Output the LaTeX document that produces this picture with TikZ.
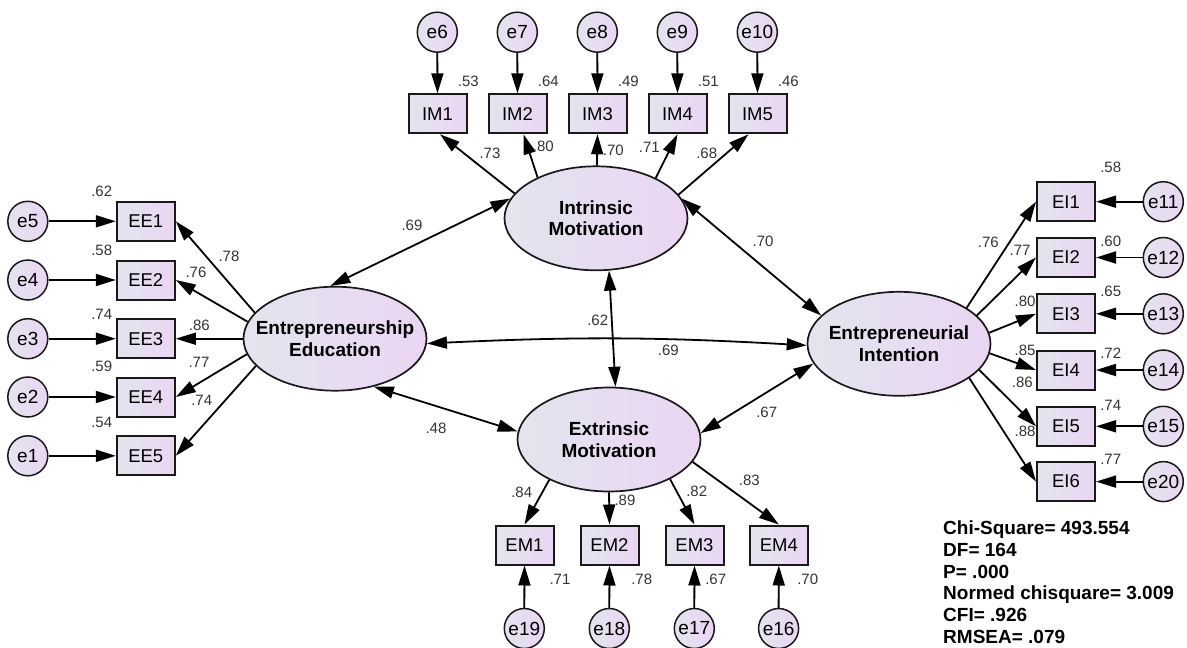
\documentclass[tikz,border=0pt]{standalone}
\usepackage{fontspec}
\setmainfont{Liberation Sans}
\usetikzlibrary{arrows.meta,shapes.geometric}
\definecolor{gA}{RGB}{226,229,238}
\definecolor{gB}{RGB}{235,213,243}
\begin{document}
\begin{tikzpicture}[x=1pt,y=-1pt,
  obs/.style={draw=black!90, line width=2pt, left color=gA, right color=gB, minimum width=58pt, minimum height=39pt, inner sep=0pt, font=\fontsize{18.5}{20}\selectfont},
  err/.style={circle, draw=black!90, line width=1.5pt, left color=gA, right color=gB, minimum size=40pt, inner sep=0pt, font=\fontsize{19}{20}\selectfont},
  lat/.style={ellipse, draw=black!90, line width=1.7pt, left color=gA, right color=gB, minimum width=183pt, minimum height=104pt, inner sep=0pt},
  lattext/.style={align=center, inner sep=0pt, font=\bfseries\fontsize{19}{21.5}\selectfont},
  lbl/.style={font=\fontsize{15}{16}\selectfont, text=black!80, inner sep=0pt},
  arr/.style={-{Triangle[length=20pt,width=12pt]}, line width=1.8pt},
  dbl/.style={{Triangle[length=20pt,width=12pt]}-{Triangle[length=20pt,width=12pt]}, line width=1.8pt}]
\useasboundingbox (0,0) rectangle (1187,648);

% latent variables
\node[lat] (EE) at (335,338.7) {};
\node[lattext] (EEt) at (EE) {Entrepreneurship\\Education};
\node[lat] (IM) at (596,218.3) {};
\node[lattext] (IMt) at (IM) {Intrinsic\\Motivation};
\node[lat] (EM) at (609,439.5) {};
\node[lattext] (EMt) at (EM) {Extrinsic\\Motivation};
\node[lat] (EI) at (899,343.8) {};
\node[lattext] (EIt) at (EI) {Entrepreneurial\\Intention};

% EE indicators
\node[obs] (EE1) at (145.8,221.3) {EE1};
\node[obs] (EE2) at (145.8,280) {EE2};
\node[obs] (EE3) at (145.8,338.7) {EE3};
\node[obs] (EE4) at (145.8,397) {EE4};
\node[obs] (EE5) at (145.8,455.8) {EE5};
\node[err] (e5) at (27.8,221.3) {e5};
\node[err] (e4) at (27.8,280) {e4};
\node[err] (e3) at (27.8,338.7) {e3};
\node[err] (e2) at (27.8,397) {e2};
\node[err] (e1) at (27.8,455.8) {e1};

% IM indicators
\node[obs] (IM1) at (437.5,113.8) {IM1};
\node[obs] (IM2) at (517.5,113.8) {IM2};
\node[obs] (IM3) at (597.5,113.8) {IM3};
\node[obs] (IM4) at (677.5,113.8) {IM4};
\node[obs] (IM5) at (757.5,113.8) {IM5};
\node[err] (e6) at (437.3,32.2) {e6};
\node[err] (e7) at (517.3,32.2) {e7};
\node[err] (e8) at (597.3,32.2) {e8};
\node[err] (e9) at (677.3,32.2) {e9};
\node[err] (e10) at (757.3,32.2) {e10};

% EM indicators
\node[obs] (EM1) at (524.5,545) {EM1};
\node[obs] (EM2) at (609.5,545) {EM2};
\node[obs] (EM3) at (694.5,545) {EM3};
\node[obs] (EM4) at (778.8,545) {EM4};
\node[err] (e19) at (524.3,628.5) {e19};
\node[err] (e18) at (609.3,628.5) {e18};
\node[err] (e17) at (694.3,628.5) {e17};
\node[err] (e16) at (778.6,628.5) {e16};

% EI indicators
\node[obs] (EI1) at (1066,201.7) {EI1};
\node[obs] (EI2) at (1066,257.5) {EI2};
\node[obs] (EI3) at (1066,313.8) {EI3};
\node[obs] (EI4) at (1066,370) {EI4};
\node[obs] (EI5) at (1066,426.3) {EI5};
\node[obs] (EI6) at (1066,481.6) {EI6};
\node[err] (e11) at (1163.3,201.7) {e11};
\node[err] (e12) at (1163.3,257.5) {e12};
\node[err] (e13) at (1163.3,313.8) {e13};
\node[err] (e14) at (1163.3,370) {e14};
\node[err] (e15) at (1163.3,426.3) {e15};
\node[err] (e20) at (1163.3,481.6) {e20};

% error arrows
\foreach \e/\b in {e5/EE1,e4/EE2,e3/EE3,e2/EE4,e1/EE5}
  \draw[arr] (\e.east) -- (\b.west);
\foreach \e/\b in {e6/IM1,e7/IM2,e8/IM3,e9/IM4,e10/IM5}
  \draw[arr] (\e.south) -- (\b.north);
\foreach \e/\b in {e19/EM1,e18/EM2,e17/EM3,e16/EM4}
  \draw[arr] (\e.north) -- (\b.south);
\foreach \e/\b in {e11/EI1,e12/EI2,e13/EI3,e14/EI4,e15/EI5,e20/EI6}
  \draw[arr] (\e.west) -- (\b.east);

% loadings
\draw[arr] (EE.162) -- (EE1.east);
\draw[arr] (EE.169) -- (EE2.east);
\draw[arr] (EE.180) -- (EE3.east);
\draw[arr] (EE.190) -- (EE4.east);
\draw[arr] (EE.199) -- (EE5.east);

\draw[arr] (IM.163) -- ([xshift=2.5pt]IM1.south);
\draw[arr] (IM.145) -- ([xshift=6pt]IM2.south);
\draw[arr] (IM.89) -- (IM3.south);
\draw[arr] (IM.34) -- (IM4.south);
\draw[arr] (IM.16) -- ([xshift=-9pt]IM5.south);

\draw[arr] (EM.214) -- (EM1.north);
\draw[arr] (EM.270) -- (EM2.north);
\draw[arr] (EM.-33) -- (EM3.north);
\draw[arr] (EM.-15) -- (EM4.north);

\draw[arr] (EI.28) -- (EI1.west);
\draw[arr] (EI.20) -- (EI2.west);
\draw[arr] (EI.7.5) -- (EI3.west);
\draw[arr] (EI.-6.5) -- (EI4.west);
\draw[arr] (EI.-18) -- (EI5.west);
\draw[arr] (EI.-26.5) -- (EI6.west);

% correlations
\draw[dbl] (EE.95) -- (IM.167);
\draw[dbl] (EE.-51) -- (EM.175);
\draw[dbl] (EE.-3) to[bend left=3] (EI.181);
\draw[dbl] (IM.13) -- (EI.160);
\draw[dbl] (IM.-76) -- (EM.83);
\draw[dbl] (EM.4) -- (EI.193);

% labels EE side
\node[lbl] (r1) at (101.7,191.7) {.62};
\node[lbl] (r2) at (101.7,250) {.58};
\node[lbl] (r3) at (101.7,314) {.74};
\node[lbl] (r4) at (101.7,366.7) {.59};
\node[lbl] (r5) at (101.7,422) {.54};
\node[lbl] (l1) at (229,256) {.78};
\node[lbl] (l2) at (196,272.7) {.76};
\node[lbl] (l3) at (199.3,325.7) {.86};
\node[lbl] (l4) at (199,362.7) {.77};
\node[lbl] (l5) at (201.7,400) {.74};
\node[lbl] (c1) at (412,225) {.69};
\node[lbl] (c2) at (436,428) {.48};
% IM side
\node[lbl] (r6) at (468.3,81) {.53};
\node[lbl] (r7) at (548.3,81) {.64};
\node[lbl] (r8) at (628.3,81) {.49};
\node[lbl] (r9) at (708.3,81) {.51};
\node[lbl] (r10) at (788.3,81) {.46};
\node[lbl] (l6) at (490,153.3) {.73};
\node[lbl] (l7) at (543.3,146.7) {.80};
\node[lbl] (l8) at (613.3,150.7) {.70};
\node[lbl] (l9) at (649.3,147.7) {.71};
\node[lbl] (l10) at (706.7,153.3) {.68};
\node[lbl] (c3) at (763,241) {.70};
\node[lbl] (c4) at (597.7,320) {.62};
\node[lbl] (c5) at (668.3,350.7) {.69};
\node[lbl] (c6) at (766.7,412.7) {.67};
% EI side
\node[lbl] (r11) at (1110.7,167.3) {.58};
\node[lbl] (r12) at (1110.7,241) {.60};
\node[lbl] (r13) at (1110.7,291) {.65};
\node[lbl] (r14) at (1110.7,353.3) {.72};
\node[lbl] (r15) at (1110.7,405) {.74};
\node[lbl] (r20) at (1110.7,459.3) {.77};
\node[lbl] (l11) at (988.3,242.7) {.76};
\node[lbl] (l12) at (1020,250.7) {.77};
\node[lbl] (l13) at (1025,301.7) {.80};
\node[lbl] (l14) at (1025,350) {.85};
\node[lbl] (l15) at (1022.3,382.7) {.86};
\node[lbl] (l16) at (1025,431.7) {.88};
% EM side
\node[lbl] (l17) at (521.7,492.7) {.84};
\node[lbl] (l18) at (625,500) {.89};
\node[lbl] (l19) at (696.7,491.7) {.82};
\node[lbl] (l20) at (749.3,480) {.83};
\node[lbl] (r19) at (560,579.3) {.71};
\node[lbl] (r18) at (641.7,579.3) {.78};
\node[lbl] (r17) at (715.7,579.3) {.67};
\node[lbl] (r16) at (807.7,579.3) {.70};

% fit statistics
\node[anchor=north west, align=left, inner sep=0pt, font=\bfseries\fontsize{19}{21.8}\selectfont] (fit) at (943,520.5)
  {Chi-Square= 493.554\\DF= 164\\P= .000\\Normed chisquare= 3.009\\CFI= .926\\RMSEA= .079};
\end{tikzpicture}
\end{document}
